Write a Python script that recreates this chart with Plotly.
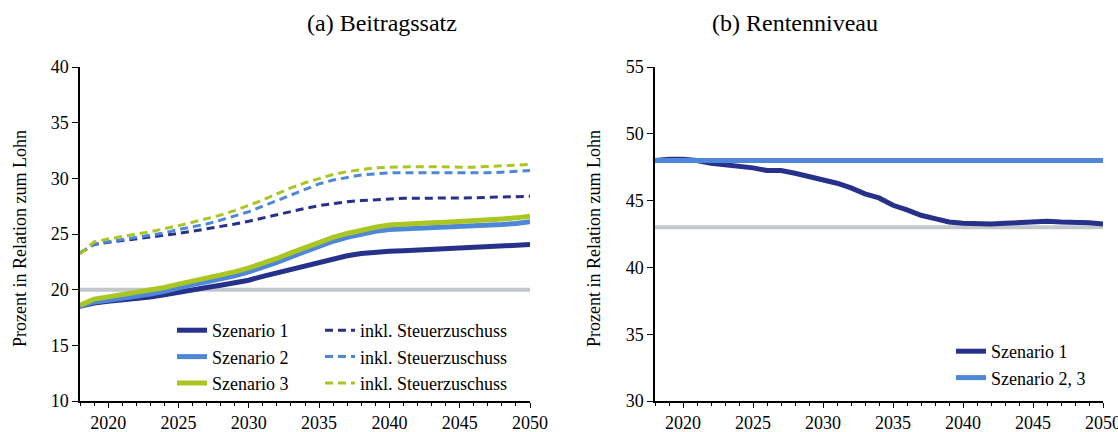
import plotly.graph_objects as go

years = list(range(2018, 2051))

# (a) Beitragssatz
bs_sz1 = [18.5, 18.8, 18.95, 19.05, 19.2, 19.35, 19.55, 19.8, 20.0, 20.2, 20.4, 20.6, 20.85,
          21.2, 21.5, 21.85, 22.2, 22.5, 22.8, 23.05, 23.25, 23.4, 23.45, 23.5, 23.55, 23.6,
          23.65, 23.7, 23.75, 23.8, 23.85, 23.95, 24.05]
bs_sz2 = [18.5, 18.9, 19.05, 19.2, 19.4, 19.6, 19.85, 20.2, 20.45, 20.7, 20.95, 21.25, 21.6,
          22.0, 22.45, 22.95, 23.45, 23.9, 24.35, 24.7, 25.0, 25.25, 25.4, 25.45, 25.5, 25.5,
          25.55, 25.6, 25.65, 25.75, 25.85, 25.95, 26.1]
bs_sz3 = [18.6, 19.15, 19.35, 19.55, 19.75, 19.95, 20.2, 20.5, 20.75, 21.0, 21.3, 21.6, 21.95,
          22.35, 22.8, 23.3, 23.8, 24.3, 24.7, 25.05, 25.35, 25.6, 25.8, 25.9, 25.95, 26.0,
          26.05, 26.1, 26.15, 26.25, 26.35, 26.45, 26.6]
bs_sz1_st = [23.3, 24.05, 24.25, 24.4, 24.55, 24.7, 24.85, 25.05, 25.25, 25.45, 25.65, 25.9, 26.15,
             26.45, 26.75, 27.05, 27.3, 27.55, 27.75, 27.9, 28.0, 28.1, 28.15, 28.2, 28.2, 28.2,
             28.2, 28.25, 28.25, 28.3, 28.3, 28.35, 28.4]
bs_sz2_st = [23.3, 24.1, 24.3, 24.5, 24.7, 24.9, 25.1, 25.4, 25.65, 25.9, 26.25, 26.6, 27.0,
             27.5, 28.0, 28.55, 29.05, 29.5, 29.85, 30.1, 30.3, 30.4, 30.5, 30.5, 30.5, 30.5,
             30.45, 30.45, 30.45, 30.5, 30.55, 30.6, 30.7]
bs_sz3_st = [23.2, 24.3, 24.55, 24.8, 25.0, 25.2, 25.45, 25.75, 26.05, 26.35, 26.7, 27.1, 27.55,
             28.05, 28.6, 29.15, 29.6, 30.0, 30.35, 30.6, 30.8, 30.95, 31.0, 31.05, 31.05, 31.05,
             31.0, 31.0, 31.0, 31.05, 31.1, 31.15, 31.25]
bs_limit = [20.0] * len(years)

# (b) Rentenniveau
rn_sz1 = [48.0, 48.1, 48.1, 48.0, 47.8, 47.7, 47.55, 47.45, 47.25, 47.25, 47.05, 46.8, 46.6,
          46.3, 45.95, 45.5, 45.2, 44.65, 44.3, 43.9, 43.65, 43.4, 43.3, 43.25, 43.25, 43.3,
          43.35, 43.4, 43.45, 43.4, 43.4, 43.35, 43.25]
rn_sz23 = [48.0] * len(years)
rn_limit = [43.0] * len(years)

x_ticks = [2020, 2025, 2030, 2035, 2040, 2045, 2050]
titles = ["(a) Beitragssatz", "(b) Rentenniveau"]
y_title = "Prozent in Relation zum Lohn"

NAVY = "#27318b"
BLUE = "#4f87d8"
GREEN = "#aac623"
GREY = "#c3c7cb"
FONT = "Times New Roman, Liberation Serif, DejaVu Serif, serif"

fig = go.Figure()

# left panel
fig.add_trace(go.Scatter(x=years, y=bs_limit, mode="lines", line=dict(color=GREY, width=4),
                         showlegend=False, hoverinfo="skip", xaxis="x", yaxis="y"))
for vals, col, name in [(bs_sz1, NAVY, "Szenario 1"), (bs_sz2, BLUE, "Szenario 2"), (bs_sz3, GREEN, "Szenario 3")]:
    fig.add_trace(go.Scatter(x=years, y=vals, mode="lines", name=name,
                             line=dict(color=col, width=5), legend="legend",
                             xaxis="x", yaxis="y"))
for vals, col in [(bs_sz1_st, NAVY), (bs_sz2_st, BLUE), (bs_sz3_st, GREEN)]:
    fig.add_trace(go.Scatter(x=years, y=vals, mode="lines", name="inkl. Steuerzuschuss",
                             line=dict(color=col, width=3, dash="8px,5px"), legend="legend2",
                             xaxis="x", yaxis="y"))

# right panel
fig.add_trace(go.Scatter(x=years, y=rn_limit, mode="lines", line=dict(color=GREY, width=4),
                         showlegend=False, hoverinfo="skip", xaxis="x2", yaxis="y2"))
fig.add_trace(go.Scatter(x=years, y=rn_sz1, mode="lines", name="Szenario 1",
                         line=dict(color=NAVY, width=5), legend="legend3", xaxis="x2", yaxis="y2"))
fig.add_trace(go.Scatter(x=years, y=rn_sz23, mode="lines", name="Szenario 2, 3",
                         line=dict(color=BLUE, width=5), legend="legend3", xaxis="x2", yaxis="y2"))

W, H = 1118, 432
def px(v):
    return v / W
def py(v):
    return 1 - v / H

xaxis_common = dict(range=[2018, 2050], tickvals=x_ticks, ticks="outside", ticklen=5,
                    tickwidth=1, tickcolor="black", showline=True, linecolor="black",
                    linewidth=1.5, showgrid=False, zeroline=False,
                    tickfont=dict(family=FONT, size=18, color="black"),
                    ticklabeloverflow="allow",
                    minor=dict(dtick=1, tick0=2018, ticks="outside", ticklen=3,
                               tickcolor="black", showgrid=False),
                    automargin=False)
yaxis_common = dict(ticks="outside", ticklen=6, tickwidth=1, tickcolor="black", showline=True,
                    linecolor="black", linewidth=1.5, showgrid=False, zeroline=False,
                    tickfont=dict(family=FONT, size=18, color="black"), automargin=False)

legend_common = dict(font=dict(family=FONT, size=18, color="black"), bgcolor="rgba(0,0,0,0)",
                     xanchor="left", yanchor="top", tracegroupgap=0, itemwidth=30)

fig.update_layout(
    width=W, height=H,
    margin=dict(l=0, r=0, t=0, b=0),
    paper_bgcolor="white", plot_bgcolor="white",
    font=dict(family=FONT, size=18, color="black"),
    xaxis=dict(domain=[px(80), px(530)], anchor="y", **xaxis_common),
    yaxis=dict(domain=[py(401), py(67)], range=[10, 40], dtick=5, anchor="x", **yaxis_common),
    xaxis2=dict(domain=[px(655), px(1103)], anchor="y2", **xaxis_common),
    yaxis2=dict(domain=[py(401), py(67)], range=[30, 55], dtick=5, anchor="x2", **yaxis_common),
    legend=dict(x=px(172), y=py(312), **legend_common),
    legend2=dict(x=px(320), y=py(312), **legend_common),
    legend3=dict(x=px(951), y=py(333), **legend_common),
    annotations=[
        dict(text=titles[0], x=px(305), y=py(23), xref="paper", yref="paper", yanchor="middle",
             showarrow=False, font=dict(family=FONT, size=24, color="black")),
        dict(text=titles[1], x=px(880), y=py(23), xref="paper", yref="paper", yanchor="middle",
             showarrow=False, font=dict(family=FONT, size=24, color="black")),
        dict(text=y_title, x=px(20), y=py(239), xref="paper", yref="paper", textangle=-90,
             xanchor="center", yanchor="middle",
             showarrow=False, font=dict(family=FONT, size=18, color="black")),
        dict(text=y_title, x=px(594), y=py(239), xref="paper", yref="paper", textangle=-90,
             xanchor="center", yanchor="middle",
             showarrow=False, font=dict(family=FONT, size=18, color="black")),
    ],
)

fig.write_html("out.html", config={"displayModeBar": False},
               post_script="document.body.style.margin='0';document.body.style.overflow='hidden';")
